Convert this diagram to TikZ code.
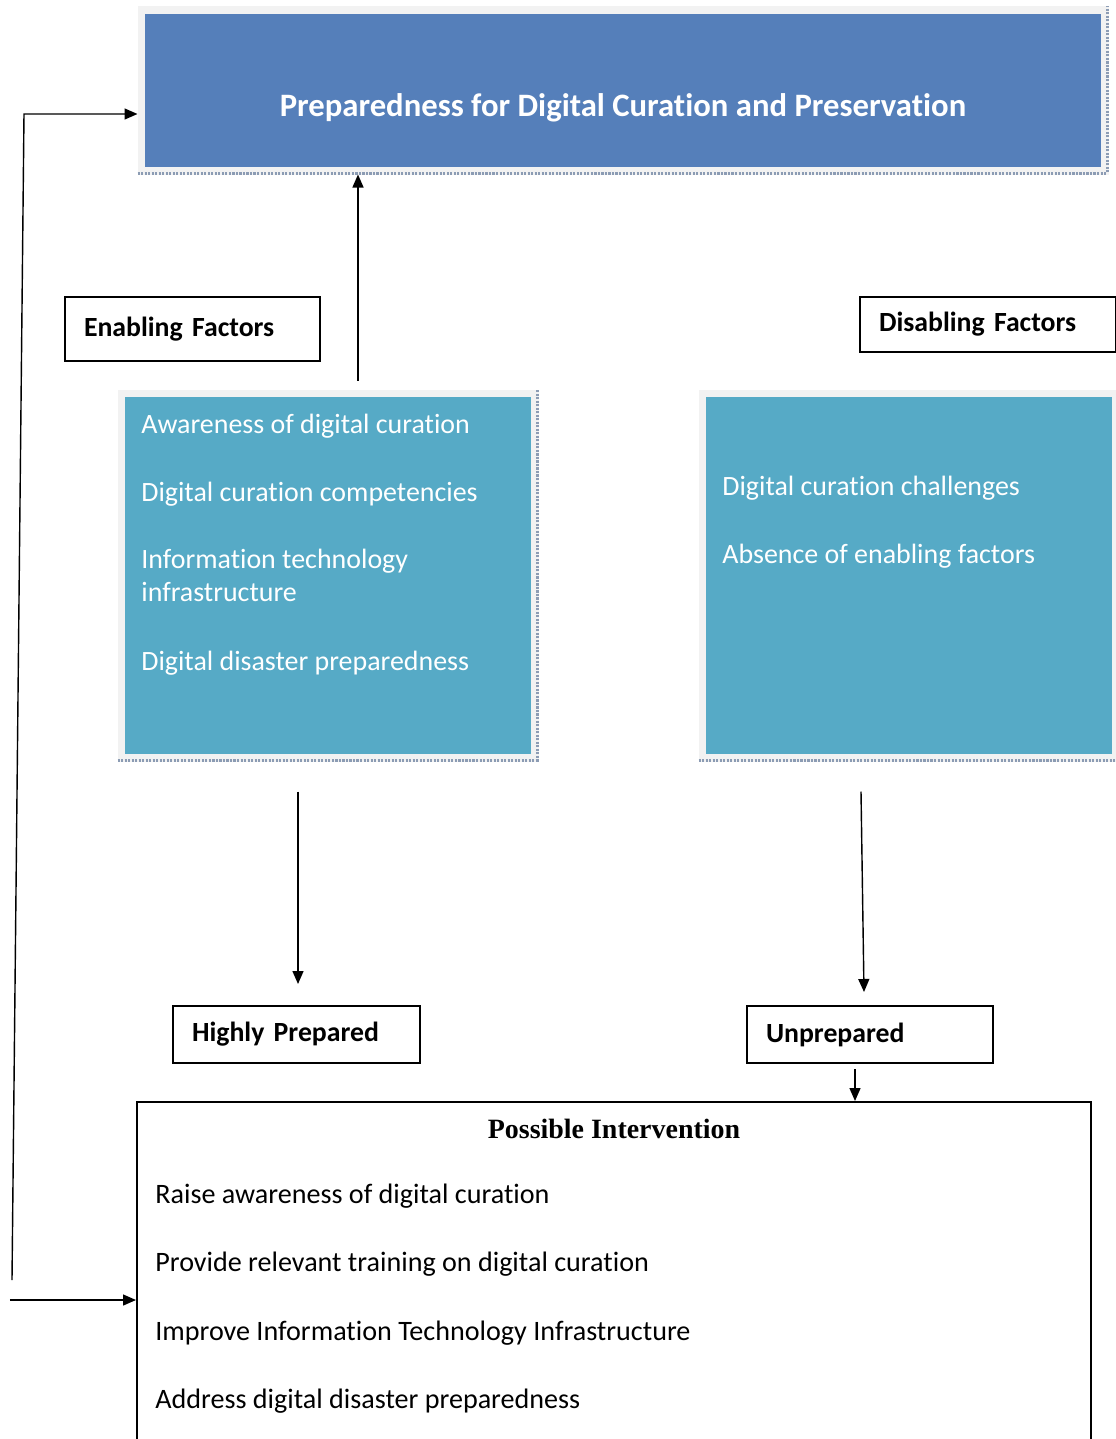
\documentclass[tikz,border=0pt]{standalone}
\usepackage{fontspec}
\setmainfont{Carlito}[Ligatures=NoCommon]
\newfontfamily\headserif{Liberation Serif}
\usetikzlibrary{arrows.meta, positioning}
\definecolor{topblue}{RGB}{85,127,186}
\definecolor{aqua}{RGB}{86,170,198}
\definecolor{framegray}{RGB}{242,242,242}
\definecolor{shadowgray}{RGB}{140,156,180}
\tikzstyle{panel} = [rectangle, draw=framegray, line width=0.15cm, inner sep=0pt]
\tikzstyle{shade} = [shadowgray, line width=0.06cm, dash pattern=on 1.2pt off 0.8pt]
\tikzstyle{factor} = [rectangle, draw=black, line width=0.04cm, minimum height=1.2cm, inner xsep=0.38cm, align=left, font=\fontsize{15.8}{19}\selectfont\bfseries]
\tikzstyle{listtext} = [inner sep=0pt, align=left, text=white, font=\fontsize{15.9}{18.7}\selectfont]
\tikzstyle{itemtext} = [inner sep=0pt, anchor=west, font=\fontsize{16}{19}\selectfont]
\tikzstyle{arrow} = [line width=0.8pt,->,>={Triangle[length=0.26cm,width=0.22cm]}]

\begin{document}
\begin{tikzpicture}
    \useasboundingbox (0,0) rectangle (22.3,-28.78);

    % top goal box
    \node (prep) [panel, fill=topblue, minimum width=19.27cm, minimum height=3.21cm] at (12.46,-1.81) {};
    \draw [shade] ([yshift=0.03cm]prep.south west) -- ([xshift=-0.03cm,yshift=0.03cm]prep.south east) -- ([xshift=-0.03cm]prep.north east);
    \node (preptext) [text=white, font=\fontsize{18.6}{22}\selectfont\bfseries] at (12.46,-2.16) {Preparedness for Digital Curation and Preservation};

    % factor labels
    \node (enabling) [factor, text width=4.34cm, minimum height=1.28cm] at (3.85,-6.58) {Enabling Factors};
    \node (disabling) [factor, text width=4.36cm, minimum height=1.1cm] at (19.76,-6.49) {Disabling Factors};

    % factor panels
    \node (leftpanel) [panel, fill=aqua, minimum width=8.27cm, minimum height=7.29cm] at (6.56,-11.51) {};
    \draw [shade] ([yshift=0.03cm]leftpanel.south west) -- ([xshift=-0.03cm,yshift=0.03cm]leftpanel.south east) -- ([xshift=-0.03cm]leftpanel.north east);
    \node (rightpanel) [panel, fill=aqua, minimum width=8.27cm, minimum height=7.29cm] at (18.18,-11.51) {};
    \draw [shade] ([yshift=0.03cm]rightpanel.south west) -- ([xshift=-0.03cm,yshift=0.03cm]rightpanel.south east);

    \node (enablelist) [listtext, anchor=north west, below right=0.48cm and 0.47cm of leftpanel.north west] {%
        Awareness of digital curation\\[0.7cm]
        Digital curation competencies\\[0.7cm]
        Information technology\\
        infrastructure\\[0.72cm]
        Digital disaster preparedness};
    \node (disablelist) [listtext, anchor=north west, below right=1.72cm and 0.47cm of rightpanel.north west] {%
        Digital curation challenges\\[0.71cm]
        Absence of enabling factors};

    % outcomes
    \node (high) [factor, text width=4.18cm, minimum height=1.14cm] at (5.93,-20.69) {Highly Prepared};
    \node (unprep) [factor, text width=4.16cm, minimum height=1.14cm] at (17.40,-20.69) {Unprepared};

    % intervention
    \node (interv) [rectangle, draw=black, line width=0.04cm, minimum width=19.08cm, minimum height=6.8cm] at (12.28,-25.44) {};
    \node (intervtitle) [font=\headserif\fontsize{15.9}{19}\selectfont\bfseries] at (12.28,-22.58) {Possible Intervention};
    \node (item1) [itemtext] at (3.1,-23.92) {Raise awareness of digital curation};
    \node (item2) [itemtext] at (3.1,-25.28) {Provide relevant training on digital curation};
    \node (item3) [itemtext] at (3.1,-26.66) {Improve Information Technology Infrastructure};
    \node (item4) [itemtext] at (3.1,-28.02) {Address digital disaster preparedness};

    % feedback path
    \coordinate (fbbot) at (0.24,-25.6);
    \coordinate (fbtop) at (0.48,-2.28);
    \coordinate (fbin) at (0.2,-26.0);

    \draw [arrow] ([xshift=0.6cm,yshift=0.18cm]leftpanel.north) -- ([xshift=0.6cm]leftpanel.north |- prep.south);
    \draw [arrow] ([xshift=-0.6cm,yshift=-0.6cm]leftpanel.south) -- ([xshift=0.03cm,yshift=0.42cm]high.north);
    \draw [arrow] ([xshift=-0.96cm,yshift=-0.6cm]rightpanel.south) -- ([xshift=-0.12cm,yshift=0.26cm]unprep.north);
    \draw [arrow] ([xshift=-0.3cm,yshift=-0.1cm]unprep.south) -- ([xshift=-0.3cm]unprep.south |- interv.north);
    \draw [arrow] (fbbot) -- (fbtop) -- (fbtop -| prep.west);
    \draw [arrow] (fbin) -- (fbin -| interv.west);
\end{tikzpicture}
\end{document}
